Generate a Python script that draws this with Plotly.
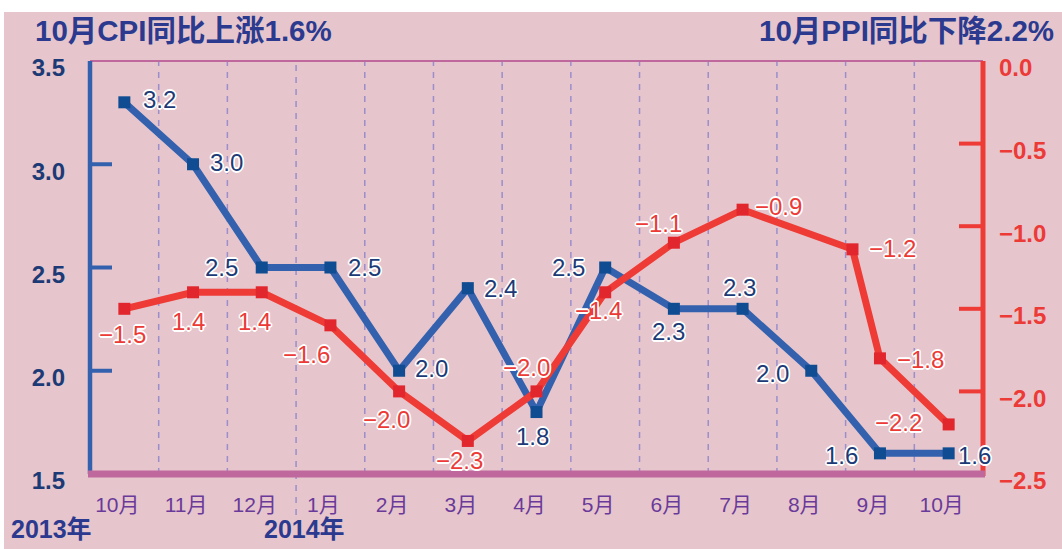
import plotly.graph_objects as go

# ---------------- data ----------------
months = ["10月", "11月", "12月", "1月", "2月", "3月", "4月", "5月", "6月", "7月", "8月", "9月", "10月"]
years = ["2013年", "2014年"]
year_start_index = [0, 3]

cpi_values = [3.3, 3.0, 2.5, 2.5, 2.0, 2.4, 1.8, 2.5, 2.3, 2.3, 2.0, 1.6, 1.6]
cpi_labels = ["3.2", "3.0", "2.5", "2.5", "2.0", "2.4", "1.8", "2.5", "2.3", "2.3", "2.0", "1.6", "1.6"]

# PPI (right axis)
ppi_x = [0, 1, 2, 3, 4, 5, 6, 7, 8, 9, 10.6, 11, 12]
ppi_values = [-1.5, -1.4, -1.4, -1.6, -2.0, -2.3, -2.0, -1.4, -1.1, -0.9, -1.14, -1.8, -2.2]
ppi_labels = ["−1.5", "1.4", "1.4", "−1.6", "−2.0", "−2.3", "−2.0", "−1.4", "−1.1", "−0.9", "−1.2", "−1.8", "−2.2"]

left_ticks = [1.5, 2.0, 2.5, 3.0, 3.5]
left_ticktext = ["1.5", "2.0", "2.5", "3.0", "3.5"]
right_ticks = [-2.5, -2.0, -1.5, -1.0, -0.5, 0.0]
right_ticktext = ["−2.5", "−2.0", "−1.5", "−1.0", "−0.5", "0.0"]

title_left = "10月CPI同比上涨1.6%"
title_right = "10月PPI同比下降2.2%"

# ---------------- styling / layout ----------------
W, H = 1062, 549
ML, MR, MT, MB = 90, 79, 61, 75
PW, PH = W - ML - MR, H - MT - MB

def px2x(px):
    return (px - ML) / PW

def py2y(py):
    return (H - MB - py) / PH

BG = "#E6C6CC"
BLUE_LINE = "#3461AE"
BLUE_MARK = "#0F4C91"
BLUE_TEXT = "#1C3B76"
RED_LINE = "#EE3B36"
RED_MARK = "#E1262E"
RED_TEXT = "#EC3A37"
TITLE = "#2B3A8F"
MAGENTA = "#BF689D"
PURPLE = "#6A3A9A"
DASH = "#9A8ECC"
FONT = "Liberation Sans, Arial, Noto Sans CJK SC, sans-serif"
OUTLINE = ",".join(f"{a}px {b}px 0 white" for a, b in
                   [(1.6, 0), (-1.6, 0), (0, 1.6), (0, -1.6), (1.2, 1.2), (-1.2, 1.2), (1.2, -1.2), (-1.2, -1.2)])

x_idx = list(range(len(months)))

fig = go.Figure()
fig.add_trace(go.Scatter(
    x=x_idx, y=cpi_values, mode="lines+markers", yaxis="y",
    line=dict(color=BLUE_LINE, width=7),
    marker=dict(symbol="square", size=12, color=BLUE_MARK),
    hoverinfo="skip", showlegend=False))
fig.add_trace(go.Scatter(
    x=ppi_x, y=ppi_values, mode="lines+markers", yaxis="y2",
    line=dict(color=RED_LINE, width=7),
    marker=dict(symbol="square", size=12, color=RED_MARK),
    hoverinfo="skip", showlegend=False))

# label offsets (pixels, dx right, dy down)
cpi_off = [(35, -3), (33, -2), (-40, 0), (34, 0), (32, -2), (33, 0), (-4, 24),
           (-37, 0), (-5, 23), (-3, -21), (-39, 3), (-38, 2), (26, 2)]
ppi_off = [(-2, 26), (-5, 29), (-7, 29), (-24, 29), (-13, 28), (-8, 20), (-10, -24),
           (-7, 18), (-15, -19), (36, -3), (40, -1), (41, 1), (-50, -2)]

annotations = []
for i, (v, t) in enumerate(zip(cpi_values, cpi_labels)):
    dx, dy = cpi_off[i]
    annotations.append(dict(x=x_idx[i], y=v, xref="x", yref="y", text=t, showarrow=False,
                            xshift=dx, yshift=-dy,
                            font=dict(family=FONT, size=24, color=BLUE_TEXT, shadow=OUTLINE)))
for i, (xv, v, t) in enumerate(zip(ppi_x, ppi_values, ppi_labels)):
    dx, dy = ppi_off[i]
    annotations.append(dict(x=xv, y=v, xref="x", yref="y2", text=t, showarrow=False,
                            xshift=dx, yshift=-dy,
                            font=dict(family=FONT, size=24, color=RED_TEXT, shadow=OUTLINE)))

# titles
annotations.append(dict(x=px2x(33), y=py2y(30), xref="paper", yref="paper", text=title_left,
                        showarrow=False, xanchor="left", yanchor="middle",
                        font=dict(family=FONT, size=29.5, color=TITLE, weight="bold")))
annotations.append(dict(x=px2x(1056), y=py2y(30), xref="paper", yref="paper", text=title_right,
                        showarrow=False, xanchor="right", yanchor="middle",
                        font=dict(family=FONT, size=29.5, color=TITLE, weight="bold")))
# year labels
year_px = [9, 262]
for yl, px in zip(years, year_px):
    annotations.append(dict(x=px2x(px), y=py2y(529), xref="paper", yref="paper", text=yl,
                            showarrow=False, xanchor="left", yanchor="middle",
                            font=dict(family=FONT, size=25, color=TITLE, weight="bold")))

shapes = []
# white strips at top and left edge
shapes.append(dict(type="rect", xref="paper", yref="paper", x0=px2x(0), x1=px2x(W), y0=py2y(0), y1=py2y(12),
                   fillcolor="white", line=dict(width=0), layer="below"))
shapes.append(dict(type="rect", xref="paper", yref="paper", x0=px2x(0), x1=px2x(4), y0=py2y(0), y1=py2y(H),
                   fillcolor="white", line=dict(width=0), layer="below"))
# dashed separators between months
for k in range(len(months) - 1):
    xb = k + 0.5
    y0 = py2y(515) if (k + 1) in year_start_index[1:] else 0
    shapes.append(dict(type="line", xref="x", yref="paper", x0=xb, x1=xb, y0=y0, y1=1,
                       line=dict(color=DASH, width=1.5, dash="6px,6px"), layer="below"))
# frame lines
shapes.append(dict(type="line", xref="paper", yref="paper", x0=0, x1=1, y0=1, y1=1,
                   line=dict(color=MAGENTA, width=2)))
shapes.append(dict(type="line", xref="paper", yref="paper", x0=0, x1=0, y0=1, y1=py2y(474),
                   line=dict(color=BLUE_LINE, width=4.5)))
shapes.append(dict(type="line", xref="paper", yref="paper", x0=1, x1=1, y0=py2y(476), y1=1,
                   line=dict(color=RED_LINE, width=5)))
shapes.append(dict(type="line", xref="paper", yref="paper", x0=px2x(88), x1=px2x(985), y0=0, y1=0,
                   line=dict(color=MAGENTA, width=7)))
# inner ticks
for v in left_ticks[1:-1]:
    shapes.append(dict(type="line", xref="paper", yref="y", xsizemode="pixel", xanchor=0,
                       x0=0, x1=22, y0=v, y1=v, line=dict(color=BLUE_LINE, width=4)))
for v in right_ticks[1:-1]:
    shapes.append(dict(type="line", xref="paper", yref="y2", xsizemode="pixel", xanchor=1,
                       x0=-24, x1=0, y0=v, y1=v, line=dict(color=RED_LINE, width=4)))

fig.update_layout(
    width=W, height=H,
    margin=dict(l=ML, r=MR, t=MT, b=MB, autoexpand=False),
    paper_bgcolor=BG, plot_bgcolor="rgba(0,0,0,0)",
    xaxis=dict(range=[-0.5, len(months) - 0.5], tickvals=x_idx, ticktext=months,
               showgrid=False, zeroline=False, showline=False, ticks="",
               ticklabelstandoff=16, ticklabelshift=-7,
               tickfont=dict(family=FONT, size=21, color=PURPLE)),
    yaxis=dict(range=[1.5, 3.5], tickvals=left_ticks, ticktext=left_ticktext,
               showgrid=False, zeroline=False, showline=False, ticks="",
               ticklabelstandoff=24, ticklabelshift=7,
               tickfont=dict(family=FONT, size=24, color=BLUE_TEXT, weight="bold")),
    yaxis2=dict(range=[-2.5, 0.0], tickvals=right_ticks, ticktext=right_ticktext,
                overlaying="y", side="right",
                showgrid=False, zeroline=False, showline=False, ticks="",
                ticklabelstandoff=15, ticklabelshift=7,
                tickfont=dict(family=FONT, size=24, color=RED_TEXT, weight="bold")),
    annotations=annotations,
    shapes=shapes,
)

fig.write_html("out.html", config={"displayModeBar": False},
               post_script="document.body.style.margin='0';document.body.style.overflow='hidden';")
